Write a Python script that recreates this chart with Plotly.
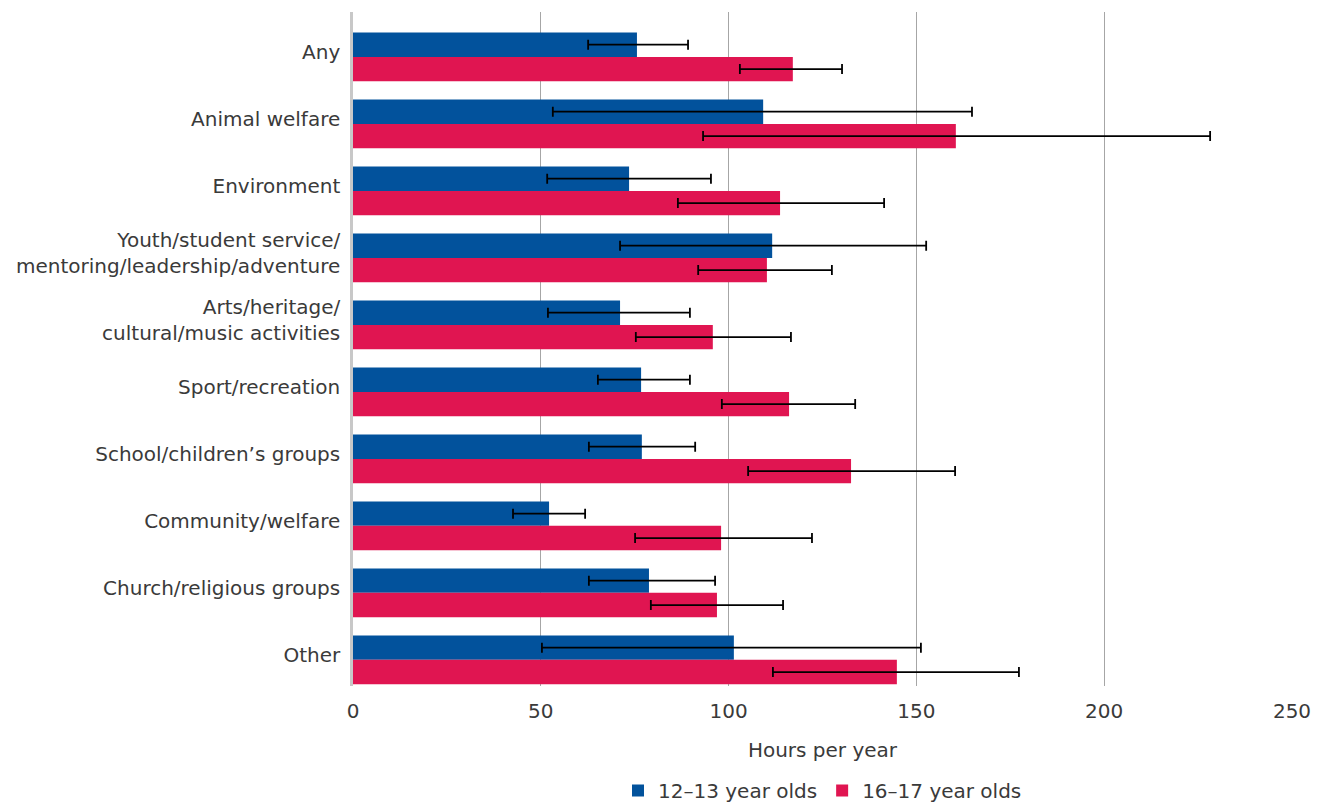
import plotly.graph_objects as go

# Volunteering categories, top to bottom
categories = [
    "Any",
    "Animal welfare",
    "Environment",
    "Youth/student service/<br>mentoring/leadership/adventure",
    "Arts/heritage/<br>cultural/music activities",
    "Sport/recreation",
    "School/children’s groups",
    "Community/welfare",
    "Church/religious groups",
    "Other",
]

# Mean hours per year with confidence interval bounds
hours_12_13 = [75.6, 109.2, 73.5, 111.6, 71.1, 76.7, 76.9, 52.2, 78.8, 101.4]
low_12_13 = [62.6, 53.2, 51.7, 71.1, 51.9, 65.2, 62.8, 42.6, 62.8, 50.3]
high_12_13 = [89.2, 164.8, 95.3, 152.6, 89.7, 89.7, 91.1, 61.8, 96.4, 151.2]

hours_16_17 = [117.1, 160.5, 113.7, 110.2, 95.8, 116.1, 132.6, 98.0, 96.9, 144.8]
low_16_17 = [103.0, 93.2, 86.5, 91.9, 75.3, 98.2, 105.2, 75.1, 79.3, 111.8]
high_16_17 = [130.2, 228.2, 141.4, 127.5, 116.6, 133.7, 160.3, 122.2, 114.5, 177.3]

x_ticks = [0, 50, 100, 150, 200, 250]

BLUE = "#02529C"
RED = "#E01551"
FONT = "DejaVu Sans"
TEXT = "#3a3a3a"


def error_bar(vals, lo, hi):
    return dict(
        type="data",
        symmetric=False,
        array=[h - v for v, h in zip(vals, hi)],
        arrayminus=[v - l for v, l in zip(vals, lo)],
        color="black",
        thickness=1.8,
        width=5,
    )


fig = go.Figure()
fig.add_trace(go.Bar(
    y=categories, x=hours_12_13, orientation="h", name="12–13 year olds",
    marker=dict(color=BLUE, line=dict(width=0)),
    error_x=error_bar(hours_12_13, low_12_13, high_12_13),
))
fig.add_trace(go.Bar(
    y=categories, x=hours_16_17, orientation="h", name="16–17 year olds",
    marker=dict(color=RED, line=dict(width=0)),
    error_x=error_bar(hours_16_17, low_16_17, high_16_17),
))

fig.update_layout(
    width=1322, height=810,
    margin=dict(l=353, r=30, t=12, b=124, autoexpand=False),
    paper_bgcolor="white", plot_bgcolor="white",
    barmode="group", bargap=0.27, bargroupgap=0,
    font=dict(family=FONT, size=20, color=TEXT),
    showlegend=True,
    legend=dict(
        orientation="h", x=0.5, xanchor="center",
        yref="container", y=0.0, yanchor="bottom",
        font=dict(size=20, color=TEXT), traceorder="normal",
        itemwidth=30, itemsizing="constant",
    ),
    xaxis=dict(
        range=[0, 250], tickvals=x_ticks, ticktext=[str(t) for t in x_ticks],
        showgrid=True, gridcolor="#a6a6a6", gridwidth=1,
        zeroline=False, showline=False, ticks="", ticklabelstandoff=11,
        title=dict(text="Hours per year", standoff=20, font=dict(size=20)),
        automargin=False, fixedrange=True,
    ),
    yaxis=dict(
        type="category", categoryorder="array", categoryarray=categories,
        range=[9.39, -0.67], showgrid=False, zeroline=False,
        showline=True, linecolor="#c8c8c8", linewidth=2.5,
        ticks="", ticklabelstandoff=6, ticklabelshift=5,
        automargin=False, fixedrange=True,
    ),
)

fig.write_html("out.html")
